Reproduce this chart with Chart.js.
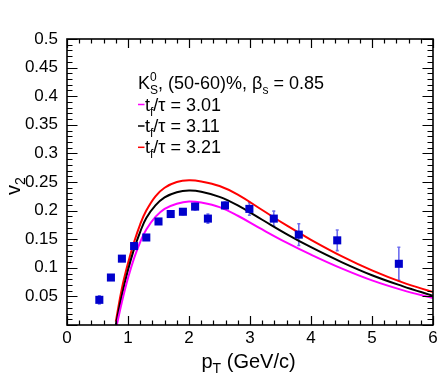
<!DOCTYPE html>
<html>
<head>
<meta charset="utf-8">
<script src="https://cdn.jsdelivr.net/npm/chart.js@4"></script>
<style>
  html, body { margin: 0; padding: 0; background: #fff; }
  canvas { display: block; }
</style>
</head>
<body>
<canvas id="v2Chart" width="448" height="383"></canvas>
<script>
// measured K0s v2 points
const dataPt = [0.53, 0.72, 0.90, 1.10, 1.30, 1.50, 1.70, 1.90, 2.10, 2.31, 2.59, 2.99, 3.39, 3.80, 4.43, 5.44];
const dataV2 = [0.044, 0.083, 0.116, 0.138, 0.153, 0.181, 0.194, 0.198, 0.207, 0.186, 0.209, 0.203, 0.186, 0.158, 0.148, 0.107];
const dataErr = [0.007, 0.004, 0.004, 0.004, 0.004, 0.004, 0.004, 0.005, 0.006, 0.008, 0.006, 0.011, 0.013, 0.019, 0.018, 0.029];

// model curves (tf/tau)
const curvePt = [0.80, 0.9, 1.0, 1.1, 1.2, 1.3, 1.45, 1.6, 1.8, 2.0, 2.2, 2.5, 2.8, 3.2, 3.6, 4.0, 4.5, 5.0, 5.5, 6.0];
const curve301 = [-0.008, 0.040, 0.082, 0.117, 0.145, 0.167, 0.189, 0.203, 0.212, 0.216, 0.214, 0.206, 0.191, 0.167, 0.144, 0.123, 0.099, 0.078, 0.061, 0.047];
const curve311 = [0.000, 0.052, 0.096, 0.133, 0.163, 0.187, 0.209, 0.223, 0.232, 0.235, 0.233, 0.224, 0.209, 0.184, 0.159, 0.136, 0.110, 0.087, 0.068, 0.051];
const curve321 = [0.006, 0.064, 0.108, 0.145, 0.176, 0.200, 0.225, 0.240, 0.250, 0.253, 0.251, 0.243, 0.228, 0.201, 0.174, 0.149, 0.1205, 0.0955, 0.0745, 0.0575];

const xTicks = [0, 1, 2, 3, 4, 5, 6];
const yTicks = [0, 0.05, 0.1, 0.15, 0.2, 0.25, 0.3, 0.35, 0.4, 0.45, 0.5];

const FONT = '"Liberation Sans", Arial, Helvetica, sans-serif';

function toPoints(xs, ys) {
    return xs.map((x, i) => ({ x: x, y: ys[i] }));
}

function curveSet(label, ys, color) {
    return {
        label: label,
        data: toPoints(curvePt, ys),
        showLine: true,
        borderColor: color,
        borderWidth: 2,
        pointRadius: 0,
        tension: 0.4,
        fill: false
    };
}

// draw text runs with sub/superscripts
function drawRun(ctx, x, y, parts) {
    parts.forEach(p => {
        ctx.font = p.size + 'px ' + FONT;
        ctx.fillText(p.t, x, y + (p.dy || 0));
        if (!p.noAdvance) x += ctx.measureText(p.t).width;
    });
    return x;
}

const rootStyle = {
    id: 'rootStyle',
    beforeDatasetsDraw(chart) {
        const ctx = chart.ctx;
        const xs = chart.scales.x, ys = chart.scales.y;
        ctx.save();
        ctx.strokeStyle = 'rgba(30, 30, 230, 0.65)';
        ctx.lineWidth = 1.6;
        dataPt.forEach((pt, i) => {
            const px = xs.getPixelForValue(pt);
            const top = ys.getPixelForValue(dataV2[i] + dataErr[i]);
            const bot = ys.getPixelForValue(dataV2[i] - dataErr[i]);
            ctx.beginPath();
            ctx.moveTo(px, top); ctx.lineTo(px, bot);
            ctx.moveTo(px - 1.5, top); ctx.lineTo(px + 1.5, top);
            ctx.moveTo(px - 1.5, bot); ctx.lineTo(px + 1.5, bot);
            ctx.stroke();
        });
        ctx.restore();
    },
    afterDraw(chart) {
        const ctx = chart.ctx;
        const a = chart.chartArea;
        const xs = chart.scales.x, ys = chart.scales.y;
        ctx.save();
        ctx.strokeStyle = '#000';
        ctx.lineWidth = 1.2;

        // inner ticks, all four sides
        ctx.beginPath();
        for (let i = 0; i <= 30; i++) {
            const v = i * 0.2;
            const px = Math.round(xs.getPixelForValue(v)) + 0.5;
            const len = (i % 5 === 0) ? 9 : 4.5;
            ctx.moveTo(px, a.bottom); ctx.lineTo(px, a.bottom - len);
            ctx.moveTo(px, a.top); ctx.lineTo(px, a.top + len);
        }
        for (let i = 0; i <= 50; i++) {
            const v = i * 0.01;
            const py = Math.round(ys.getPixelForValue(v)) + 0.5;
            const len = (i % 5 === 0) ? 10.5 : 5.5;
            ctx.moveTo(a.left, py); ctx.lineTo(a.left + len, py);
            ctx.moveTo(a.right, py); ctx.lineTo(a.right - len, py);
        }
        ctx.stroke();

        // frame
        ctx.lineWidth = 1.6;
        ctx.strokeRect(a.left, a.top, a.right - a.left, a.bottom - a.top);

        // legend text
        ctx.fillStyle = '#000';
        ctx.textBaseline = 'alphabetic';
        ctx.textAlign = 'left';
        let x = drawRun(ctx, 138, 89, [{ t: 'K', size: 18 }]);
        drawRun(ctx, x, 89, [{ t: '0', size: 12, dy: -8, noAdvance: true }]);
        x = drawRun(ctx, x, 89, [{ t: 'S', size: 12, dy: 5 }]);
        drawRun(ctx, x, 89, [
            { t: ', (50-60)%, \u03B2', size: 18 },
            { t: 's', size: 12, dy: 5 },
            { t: ' = 0.85', size: 18 }
        ]);

        const rows = [
            { color: '#ff00ff', text: '/\u03C4 = 3.01', y: 110.5 },
            { color: '#000000', text: '/\u03C4 = 3.11', y: 132 },
            { color: '#ff0000', text: '/\u03C4 = 3.21', y: 153.3 }
        ];
        rows.forEach(r => {
            ctx.strokeStyle = r.color;
            ctx.lineWidth = 1.5;
            ctx.beginPath();
            ctx.moveTo(138, r.y - 6); ctx.lineTo(144.5, r.y - 6);
            ctx.stroke();
            ctx.fillStyle = '#000';
            drawRun(ctx, 145, r.y, [
                { t: 't', size: 18 },
                { t: 'f', size: 12, dy: 5 },
                { t: r.text, size: 18 }
            ]);
        });

        // axis titles
        drawRun(ctx, 201.5, 368, [
            { t: 'p', size: 20 },
            { t: 'T', size: 14, dy: 5 },
            { t: ' (GeV/c)', size: 20 }
        ]);
        ctx.translate(19.5, 195);
        ctx.rotate(-Math.PI / 2);
        drawRun(ctx, 0, 0, [
            { t: 'v', size: 20 },
            { t: '2', size: 14, dy: 5 }
        ]);
        ctx.restore();
    }
};

new Chart(document.getElementById('v2Chart'), {
    type: 'scatter',
    data: {
        datasets: [
            {
                label: 'data',
                data: toPoints(dataPt, dataV2),
                pointStyle: 'rect',
                pointRadius: 5.7,
                pointHoverRadius: 5.7,
                pointBorderWidth: 0,
                backgroundColor: '#0000cc',
                borderColor: '#0000cc'
            },
            curveSet('tf/tau = 3.01', curve301, '#ff00ff'),
            curveSet('tf/tau = 3.11', curve311, '#000000'),
            curveSet('tf/tau = 3.21', curve321, '#ff0000')
        ]
    },
    options: {
        responsive: false,
        animation: false,
        layout: { padding: { top: 39, right: 15, left: 0, bottom: 0 } },
        plugins: { legend: { display: false }, tooltip: { enabled: false } },
        scales: {
            x: {
                type: 'linear',
                min: 0, max: 6,
                afterFit(s) { s.height = 58; },
                afterBuildTicks(s) { s.ticks = xTicks.map(v => ({ value: v })); },
                ticks: {
                    color: '#000',
                    padding: 3,
                    maxRotation: 0,
                    font: { size: 17, family: FONT },
                    callback: v => String(v)
                },
                grid: { display: false, drawTicks: false },
                border: { display: false }
            },
            y: {
                type: 'linear',
                min: 0, max: 0.5,
                afterFit(s) { s.width = 67; },
                afterBuildTicks(s) { s.ticks = yTicks.map(v => ({ value: v })); },
                ticks: {
                    color: '#000',
                    padding: 9,
                    font: { size: 17, family: FONT },
                    callback: v => v === 0 ? '' : String(Number(v.toFixed(2)))
                },
                grid: { display: false, drawTicks: false },
                border: { display: false }
            }
        }
    },
    plugins: [rootStyle]
});
</script>
</body>
</html>
